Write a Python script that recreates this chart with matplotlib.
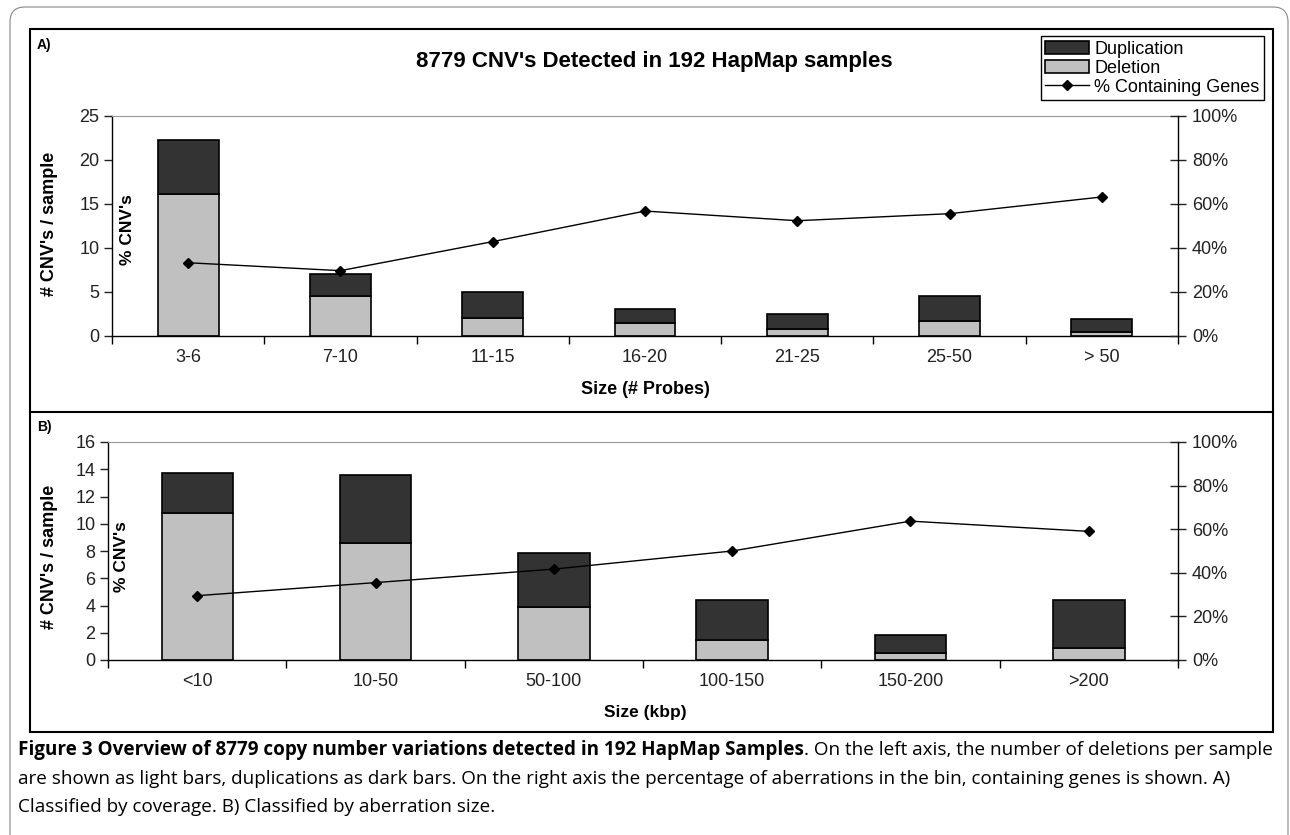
import numpy as np
import matplotlib
matplotlib.use('Agg')
import matplotlib.pyplot as plt
from matplotlib.patches import FancyBboxPatch, Rectangle
from matplotlib.lines import Line2D

plt.rcParams['font.family'] = ['Liberation Sans', 'DejaVu Sans']

# panel A: size in number of probes
cats_a = ['3-6', '7-10', '11-15', '16-20', '21-25', '25-50', '> 50']
del_a = [16.1, 4.5, 2.0, 1.45, 0.75, 1.75, 0.45]
dup_a = [6.2, 2.55, 3.0, 1.65, 1.7, 2.75, 1.5]
genes_a = [33.3, 29.7, 42.9, 56.8, 52.4, 55.6, 63.2]

# panel B: size in kbp
cats_b = ['<10', '10-50', '50-100', '100-150', '150-200', '>200']
del_b = [10.8, 8.6, 3.9, 1.5, 0.55, 0.85]
dup_b = [2.9, 4.95, 3.95, 2.9, 1.3, 3.55]
genes_b = [29.5, 35.5, 41.7, 50.0, 63.7, 59.0]

W, H = 1290, 835
DARK = '#333333'
LIGHT = '#c0c0c0'
TXT = '#222222'


def px(x0, y0, x1, y1):
    """pixel box (top-left origin) -> figure rect"""
    return [x0 / W, 1 - y1 / H, (x1 - x0) / W, (y1 - y0) / H]


def draw_panel(fig, rect, cats, dels, dups, genes, ymax, ystep):
    ax = fig.add_axes(rect)
    x = np.arange(len(cats))
    b_del = ax.bar(x, dels, width=0.4, color=LIGHT, edgecolor='black', linewidth=1.2, zorder=2)
    b_dup = ax.bar(x, dups, width=0.4, bottom=dels, color=DARK, edgecolor='black', linewidth=1.2, zorder=2)
    ax.set_xlim(-0.5, len(cats) - 0.5)
    ax.set_ylim(0, ymax)
    ax.set_yticks(np.arange(0, ymax + 0.1, ystep))
    ax.set_xticks(x)
    ax.set_xticklabels(cats)
    ax.set_xticks(np.arange(-0.5, len(cats) - 0.4, 1), minor=True)
    ax.tick_params(axis='x', which='major', length=0, pad=9, labelsize=13, colors=TXT)
    ax.tick_params(axis='x', which='minor', length=6, width=1, direction='out')
    ax.tick_params(axis='y', length=6, width=1, direction='out', pad=3, labelsize=13, colors=TXT)
    ax.spines['top'].set_color('#999999')
    ax.spines['right'].set_visible(False)
    for s in ['left', 'bottom']:
        ax.spines[s].set_linewidth(1)

    ax2 = ax.twinx()
    ln, = ax2.plot(x, genes, color='black', linewidth=1, marker='D', markersize=5, zorder=3)
    ax2.set_ylim(0, 100)
    ax2.set_yticks(np.arange(0, 101, 20))
    ax2.set_yticklabels([f'{v}%' for v in range(0, 101, 20)])
    ax2.tick_params(axis='y', length=12, width=1, direction='inout', pad=4, labelsize=13, colors=TXT)
    for s in ['top', 'left', 'bottom']:
        ax2.spines[s].set_visible(False)
    ax2.spines['right'].set_linewidth(1)
    return ax, b_del, b_dup, ln


fig = plt.figure(figsize=(W / 100, H / 100), dpi=100)

# frames
fig.patches.append(FancyBboxPatch((0.10, -0.3), 12.78, 8.58, boxstyle='round,pad=0,rounding_size=0.15',
                                  transform=fig.dpi_scale_trans, fill=False, edgecolor='#888888', linewidth=0.8))
fig.patches.append(Rectangle((0.30, 1.03), 12.43, 7.03, transform=fig.dpi_scale_trans,
                             fill=False, edgecolor='black', linewidth=1.5))
fig.lines.append(Line2D([0.30, 12.73], [4.23, 4.23], transform=fig.dpi_scale_trans, color='black', linewidth=1.5))

axA, dA, uA, lA = draw_panel(fig, px(112, 116, 1178, 336), cats_a, del_a, dup_a, genes_a, 25, 5)
axB, dB, uB, lB = draw_panel(fig, px(108, 442, 1178, 660), cats_b, del_b, dup_b, genes_b, 16, 2)

fig.text(654 / W, 1 - 62 / H, "8779 CNV's Detected in 192 HapMap samples", ha='center', va='center',
         fontsize=16, fontweight='bold')
fig.text(37 / W, 1 - 45 / H, 'A)', ha='left', va='center', fontsize=10, fontweight='bold')
fig.text(37 / W, 1 - 427 / H, 'B)', ha='left', va='center', fontsize=10, fontweight='bold')

fig.text(50 / W, 1 - 224 / H, "# CNV's / sample", rotation=90, ha='center', va='center', fontsize=13, fontweight='bold')
fig.text(127 / W, 1 - 230 / H, "% CNV's", rotation=90, ha='center', va='center', fontsize=12.5, fontweight='bold')
fig.text(50 / W, 1 - 557 / H, "# CNV's / sample", rotation=90, ha='center', va='center', fontsize=13, fontweight='bold')
fig.text(122 / W, 1 - 557 / H, "% CNV's", rotation=90, ha='center', va='center', fontsize=12.5, fontweight='bold')

fig.text(645 / W, 1 - 390 / H, 'Size (# Probes)', ha='center', va='center', fontsize=13, fontweight='bold')
fig.text(645 / W, 1 - 712 / H, 'Size (kbp)', ha='center', va='center', fontsize=12.5, fontweight='bold')

fig.legend([uA, dA, lA], ['Duplication', 'Deletion', '% Containing Genes'], loc='upper right',
           bbox_to_anchor=(1264 / W, 1 - 36 / H), fontsize=13, fancybox=False, edgecolor='black',
           framealpha=1, borderpad=0.25, labelspacing=0.1, handlelength=2.4, handleheight=0.8,
           handletextpad=0.3, borderaxespad=0)

# caption
cap_font = ['Open Sans', 'DejaVu Sans']
cs = 13.6
t1 = fig.text(18 / W, 1 - 750 / H, 'Figure 3 Overview of 8779 copy number variations detected in 192 HapMap Samples',
              ha='left', va='center', fontsize=cs, fontweight='bold', family=cap_font)
fig.canvas.draw()
bb = t1.get_window_extent()
fig.text(bb.x1 / W, 1 - 750 / H, '. On the left axis, the number of deletions per sample',
         ha='left', va='center', fontsize=cs, family=cap_font)
fig.text(18 / W, 1 - 779 / H, 'are shown as light bars, duplications as dark bars. On the right axis the percentage of aberrations in the bin, containing genes is shown. A)',
         ha='left', va='center', fontsize=cs, family=cap_font)
fig.text(18 / W, 1 - 807 / H, 'Classified by coverage. B) Classified by aberration size.',
         ha='left', va='center', fontsize=cs, family=cap_font)

fig.savefig('out.png', dpi=100)
